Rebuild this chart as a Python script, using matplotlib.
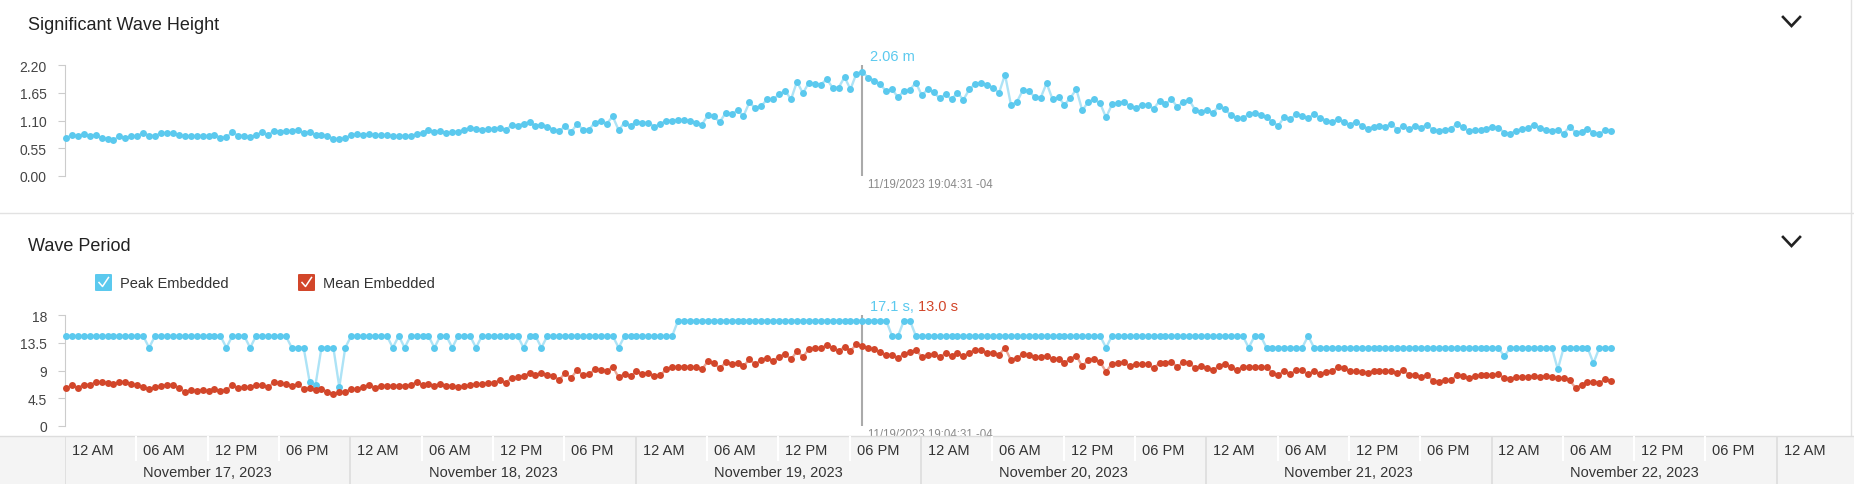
import pandas as pd
import matplotlib
matplotlib.use('Agg')
import matplotlib.pyplot as plt
import matplotlib.dates as mdates
from matplotlib.patches import Rectangle, FancyBboxPatch
from matplotlib.lines import Line2D

plt.rcParams['font.family'] = ['Liberation Sans', 'DejaVu Sans']

# significant wave height (m), every 30 min from 11/17 00:04:31
swh = [0.75, 0.81, 0.79, 0.83, 0.79, 0.82, 0.75, 0.74, 0.71, 0.79,
       0.75, 0.79, 0.79, 0.86, 0.80, 0.80, 0.85, 0.85, 0.85, 0.81,
       0.79, 0.79, 0.79, 0.80, 0.79, 0.82, 0.76, 0.77, 0.87, 0.80,
       0.80, 0.77, 0.81, 0.87, 0.81, 0.90, 0.88, 0.89, 0.89, 0.92,
       0.85, 0.88, 0.81, 0.82, 0.79, 0.74, 0.73, 0.75, 0.81, 0.83,
       0.82, 0.83, 0.81, 0.81, 0.81, 0.79, 0.79, 0.80, 0.79, 0.83,
       0.85, 0.91, 0.88, 0.89, 0.85, 0.87, 0.88, 0.92, 0.95, 0.94,
       0.91, 0.93, 0.93, 0.96, 0.91, 1.01, 1.00, 1.04, 1.07, 0.99,
       1.02, 0.98, 0.92, 0.89, 0.99, 0.87, 1.03,
       0.92, 0.92, 1.06, 1.09, 1.04, 1.18, 0.91, 1.06, 1.00, 1.08,
       1.05, 1.06, 0.98, 1.03, 1.10, 1.10, 1.11, 1.11, 1.10, 1.06,
       1.02, 1.20, 1.18, 1.07, 1.25, 1.23, 1.30, 1.19, 1.46, 1.34,
       1.39, 1.52, 1.52, 1.62, 1.69, 1.52, 1.87, 1.64, 1.85, 1.83,
       1.81, 1.92, 1.75, 1.75, 1.96, 1.72, 2.03, 2.06, 1.95, 1.89,
       1.82, 1.68, 1.72, 1.56, 1.69, 1.71, 1.85, 1.60, 1.72, 1.66,
       1.54, 1.62, 1.52, 1.65, 1.51, 1.72, 1.83, 1.85, 1.81, 1.75,
       1.65, 2.01, 1.41, 1.47, 1.70, 1.68, 1.57, 1.55, 1.84, 1.52,
       1.56, 1.41, 1.55, 1.72, 1.30, 1.47, 1.52, 1.44, 1.16,
       1.42, 1.45, 1.47, 1.39, 1.35, 1.41, 1.41, 1.33, 1.49, 1.43,
       1.52, 1.37, 1.47, 1.50, 1.31, 1.27, 1.31, 1.25, 1.39, 1.33,
       1.20, 1.14, 1.14, 1.23, 1.25, 1.21, 1.16, 1.07, 1.00, 1.17,
       1.12, 1.23, 1.19, 1.14, 1.23, 1.15, 1.10, 1.07, 1.12, 1.08,
       1.01, 1.08, 1.00, 0.94, 0.98, 0.99, 0.98, 1.03, 0.92, 0.99,
       0.93, 1.00, 0.96, 1.02, 0.91, 0.90, 0.92, 0.93, 1.03, 0.97,
       0.89, 0.91, 0.91, 0.94, 0.97, 0.96, 0.86, 0.84, 0.90, 0.93,
       0.95, 1.02, 0.95, 0.92, 0.90, 0.92, 0.84, 0.98, 0.86, 0.88,
       0.94, 0.86, 0.83, 0.92, 0.90]

# peak period (s)
peak = [14.6, 14.6, 14.6, 14.6, 14.6, 14.6, 14.6, 14.6, 14.6, 14.6, 14.6, 14.6, 14.6, 14.6, 12.7, 14.6, 14.6, 14.6, 14.6, 14.6,
        14.6, 14.6, 14.6, 14.6, 14.6, 14.6, 14.6, 12.7, 14.6, 14.6, 14.6, 12.7, 14.6, 14.6, 14.6, 14.6, 14.6, 14.6, 12.7, 12.7,
        12.7, 7.2, 6.7, 12.7, 12.7, 12.7, 6.3, 12.7, 14.6, 14.6, 14.6, 14.6, 14.6, 14.6, 14.6, 12.7, 14.6, 12.7, 14.6, 14.6,
        14.6, 14.6, 12.7, 14.6, 14.6, 12.7, 14.6, 14.6, 14.6, 12.7, 14.6, 14.6, 14.6, 14.6, 14.6, 14.6, 14.6, 12.7, 14.6, 14.6,
        12.7, 14.6, 14.6, 14.6, 14.6, 14.6, 14.6, 14.6, 14.6, 14.6, 14.6, 14.6, 14.6, 12.7, 14.6, 14.6, 14.6, 14.6, 14.6, 14.6,
        14.6, 14.6, 14.6, 17.1, 17.1, 17.1, 17.1, 17.1, 17.1, 17.1, 17.1, 17.1, 17.1, 17.1, 17.1, 17.1, 17.1, 17.1, 17.1, 17.1,
        17.1, 17.1, 17.1, 17.1, 17.1, 17.1, 17.1, 17.1, 17.1, 17.1, 17.1, 17.1, 17.1, 17.1, 17.1, 17.1, 17.1, 17.1, 17.1, 14.6,
        14.6, 17.1, 17.1, 14.6, 14.6, 14.6, 14.6, 14.6, 14.6, 14.6, 14.6, 14.6, 14.6, 14.6, 14.6, 14.6, 14.6, 14.6, 14.6, 14.6,
        14.6, 14.6, 14.6, 14.6, 14.6, 14.6, 14.6, 14.6, 14.6, 14.6, 14.6, 14.6, 14.6, 14.6, 14.6, 12.7, 14.6, 14.6, 14.6, 14.6,
        14.6, 14.6, 14.6, 14.6, 14.6, 14.6, 14.6, 14.6, 14.6, 14.6, 14.6, 14.6, 14.6, 14.6, 14.6, 14.6, 14.6, 14.6, 14.6, 12.7,
        14.6, 14.6, 12.7, 12.7, 12.7, 12.7, 12.7, 12.7, 12.7, 14.6, 12.7, 12.7, 12.7, 12.7, 12.7, 12.7, 12.7, 12.7, 12.7, 12.7,
        12.7, 12.7, 12.7, 12.7, 12.7, 12.7, 12.7, 12.7, 12.7, 12.7, 12.7, 12.7, 12.7, 12.7, 12.7, 12.7, 12.7, 12.7, 12.7, 12.7,
        12.7, 12.7, 11.3, 12.7, 12.7, 12.7, 12.7, 12.7, 12.7, 12.7, 12.7, 9.2, 12.7, 12.7, 12.7, 12.7, 12.7, 10.2, 12.7, 12.7, 12.7]

# mean period (s)
mean = [6.10, 6.59, 6.21, 6.70, 6.70, 7.07, 7.07, 6.97, 6.80, 7.13,
        7.13, 6.80, 6.59, 6.32, 5.99, 6.26, 6.43, 6.70, 6.70, 6.21,
        5.51, 5.78, 5.67, 5.89, 5.62, 5.99, 5.62, 5.89, 6.59, 6.10,
        6.26, 6.26, 6.59, 6.64, 6.32, 7.07, 6.97, 6.75, 6.53, 6.75,
        6.05, 6.10, 5.78, 6.05, 5.45, 5.18, 5.45, 5.56, 5.94, 5.94,
        6.32, 6.64, 6.21, 6.53, 6.53, 6.53, 6.53, 6.53, 6.70, 7.07,
        6.64, 6.86, 6.53, 6.86, 6.53, 6.53, 6.26, 6.43, 6.64, 6.75,
        6.75, 7.02, 7.02, 7.40, 7.02, 7.83, 7.88, 8.15, 8.53, 8.32,
        8.59, 8.32, 8.05, 7.51, 8.59, 7.78, 9.07,
        8.21, 8.37, 9.18, 9.13, 8.91, 9.61, 7.88, 8.48, 8.10, 8.86,
        8.48, 8.64, 8.10, 8.26, 9.18, 9.56, 9.61, 9.61, 9.61, 9.50,
        9.18, 10.48, 10.21, 9.34, 10.31, 10.10, 10.21, 9.72, 10.80, 9.99,
        10.75, 11.02, 10.58, 11.23, 11.72, 10.80, 12.15, 11.23, 12.47, 12.58,
        12.58, 13.07, 12.58, 12.20, 12.80, 12.20, 13.23, 13.00, 12.58, 12.47,
        11.99, 11.45, 11.56, 11.02, 11.72, 11.93, 12.31, 11.23, 11.50, 11.66,
        11.23, 11.77, 11.34, 11.77, 11.29, 11.88, 12.37, 12.26, 11.88, 11.88,
        11.56, 12.69, 10.69, 11.07, 11.61, 11.50, 11.18, 11.12, 11.39, 10.85,
        10.91, 10.26, 10.91, 11.39, 9.67, 10.69, 10.85, 10.37, 8.80,
        10.10, 10.15, 10.31, 9.72, 9.99, 10.04, 9.99, 9.40, 10.21, 10.21,
        10.37, 9.61, 10.31, 10.26, 9.34, 9.67, 9.40, 9.07, 9.72, 10.04,
        9.56, 9.02, 9.61, 9.56, 9.61, 9.61, 9.50, 8.59, 8.32, 8.96,
        8.37, 9.07, 9.02, 8.37, 8.96, 8.37, 8.75, 8.91, 9.50, 9.40,
        8.91, 8.86, 8.69, 8.59, 8.96, 8.91, 8.96, 8.86, 8.64, 9.02,
        8.32, 8.32, 7.94, 8.26, 7.34, 7.18, 7.45, 7.40, 8.21, 8.10,
        7.78, 8.05, 8.21, 8.21, 8.26, 8.37, 7.78, 7.61, 7.88, 7.99,
        7.99, 8.10, 7.88, 8.15, 7.88, 7.83, 7.72, 7.40, 6.16, 6.70,
        7.07, 7.18, 7.02, 7.56, 7.24]

swh_ticks = [0, 0.55, 1.10, 1.65, 2.20]
period_ticks = [0, 4.5, 9, 13.5, 18]
period_labels = ['0', '4.5', '9', '13.5', '18']
days = ['November 17, 2023', 'November 18, 2023', 'November 19, 2023',
        'November 20, 2023', 'November 21, 2023', 'November 22, 2023']
hour_labels = ['12 AM', '06 AM', '12 PM', '06 PM']

BLUE, BLUE_LINE = '#5bc9ee', '#ade3f6'
RED, RED_LINE = '#d2462a', '#eaa595'
W, H = 1854, 485

times = pd.date_range('2023-11-17 00:04:31', periods=len(swh), freq='30min')
x = mdates.date2num(times)
start = mdates.date2num(pd.Timestamp('2023-11-17'))
x_left, x_right, day_px = 65, 1850, 285.3
xlim = (start, start + (x_right - x_left) / day_px)
cross = mdates.date2num(pd.Timestamp('2023-11-19 19:04:31'))
ci = list(times).index(pd.Timestamp('2023-11-19 19:04:31'))


def fx(px):
    return px / W


def fy(py):
    return 1 - py / H


fig = plt.figure(figsize=(W / 100, H / 100), dpi=100)


def make_axes(top, bottom):
    ax = fig.add_axes([fx(x_left), fy(bottom), fx(x_right) - fx(x_left), (bottom - top) / H])
    ax.set_facecolor('none')
    for s in ('top', 'right', 'bottom'):
        ax.spines[s].set_visible(False)
    ax.spines['left'].set_color('#cccccc')
    ax.tick_params(axis='y', length=5, color='#cccccc', labelcolor='#444444', labelsize=10, pad=8)
    ax.set_xticks([])
    ax.set_xlim(*xlim)
    return ax


ax1 = make_axes(66, 177)
ax1.plot(x, swh, '-', color=BLUE_LINE, lw=1.7, clip_on=False, zorder=2)
ax1.plot(x, swh, 'o', color=BLUE, ms=5, mec='none', clip_on=False, zorder=3)
ax1.set_ylim(0, 2.2)
ax1.set_yticks(swh_ticks)
ax1.set_yticklabels(['%.2f' % v for v in swh_ticks])

ax2 = make_axes(316, 427)
ax2.plot(x, peak, '-', color=BLUE_LINE, lw=1.7, clip_on=False, zorder=2)
ax2.plot(x, mean, '-', color=RED_LINE, lw=1.7, clip_on=False, zorder=2)
ax2.plot(x, peak, 'o', color=BLUE, ms=5, mec='none', clip_on=False, zorder=3)
ax2.plot(x, mean, 'o', color=RED, ms=5, mec='none', clip_on=False, zorder=3)
ax2.set_ylim(0, 18)
ax2.set_yticks(period_ticks)
ax2.set_yticklabels(period_labels)

# crosshair
for ax in (ax1, ax2):
    ax.axvline(cross, color='#aaaaaa', lw=1.5, zorder=1)
    ax.annotate('11/19/2023 19:04:31 -04', xy=(cross, 0), xycoords=('data', 'axes fraction'),
                xytext=(6, -8), textcoords='offset pixels', ha='left', va='center',
                fontsize=8.3, color='#8a8a8a', annotation_clip=False)
ax1.annotate('%.2f m' % swh[ci], xy=(cross, 1), xycoords=('data', 'axes fraction'),
             xytext=(8, 9), textcoords='offset pixels', ha='left', va='center',
             fontsize=10.5, color=BLUE)
t1 = ax2.annotate('%.1f s,' % peak[ci], xy=(cross, 1), xycoords=('data', 'axes fraction'),
                  xytext=(8, 9), textcoords='offset pixels', ha='left', va='center',
                  fontsize=10.5, color=BLUE)
fig.canvas.draw()
bb = t1.get_window_extent()
fig.text(fx(bb.x1 + 4), fy(316 - 9), '%.1f s' % mean[ci], ha='left', va='center',
         fontsize=10.5, color=RED)

# panel titles, chevrons, frame lines
fig.text(fx(28), fy(26), 'Significant Wave Height', fontsize=13, color='#222222', va='center')
fig.text(fx(28), fy(247), 'Wave Period', fontsize=13, color='#222222', va='center')
for cy in (23, 243):
    fig.add_artist(Line2D([fx(1783), fx(1791.5), fx(1800)], [fy(cy - 5), fy(cy + 4), fy(cy - 5)],
                          color='#222222', lw=1.9, solid_joinstyle='miter'))
fig.add_artist(Line2D([0, 1], [fy(213.5), fy(213.5)], color='#e2e2e2', lw=1))
fig.add_artist(Line2D([fx(1851), fx(1851)], [fy(437), 1], color='#e2e2e2', lw=1))

# legend
for bx, label, col in ((95, 'Peak Embedded', BLUE), (298, 'Mean Embedded', RED)):
    fig.add_artist(FancyBboxPatch((fx(bx), fy(292)), fx(17), 17 / H,
                                  boxstyle='round,pad=0,rounding_size=0.0012',
                                  fc=col, ec='none'))
    fig.add_artist(Line2D([fx(bx + 4), fx(bx + 7.5), fx(bx + 13.5)], [fy(283.5), fy(287.5), fy(278.5)],
                          color='white', lw=1.1))
    fig.text(fx(bx + 25), fy(284), label, fontsize=10.5, color='#333333', va='center')

# time band at the bottom
fig.add_artist(Rectangle((0, 0), 1, fy(437), transform=fig.transFigure,
                         fc='#f4f4f4', ec='none', zorder=2))
fig.add_artist(Line2D([0, 1], [fy(437), fy(437)], color='#dddddd', lw=1, zorder=2.1))
axb = fig.add_axes([fx(x_left), 0, fx(x_right) - fx(x_left), fy(437)], zorder=3)
axb.set_xlim(*xlim)
axb.set_ylim(48, 0)
axb.axis('off')
ticks6 = pd.date_range('2023-11-17', '2023-11-23', freq='6h')
for i, t in enumerate(ticks6):
    tx = mdates.date2num(t)
    if t.hour == 0:
        axb.axvline(tx, color='#dddddd', lw=1.2)
    else:
        axb.plot([tx, tx], [0, 24], color='#ffffff', lw=1.5)
    axb.annotate(hour_labels[i % 4], xy=(tx, 14), xytext=(7, 0), textcoords='offset pixels',
                 ha='left', va='center', fontsize=10.5, color='#333333')
for i, d in enumerate(days):
    axb.text(start + i + 0.5, 36, d, ha='center', va='center', fontsize=10.5, color='#333333')

fig.savefig('out.png', dpi=100)
